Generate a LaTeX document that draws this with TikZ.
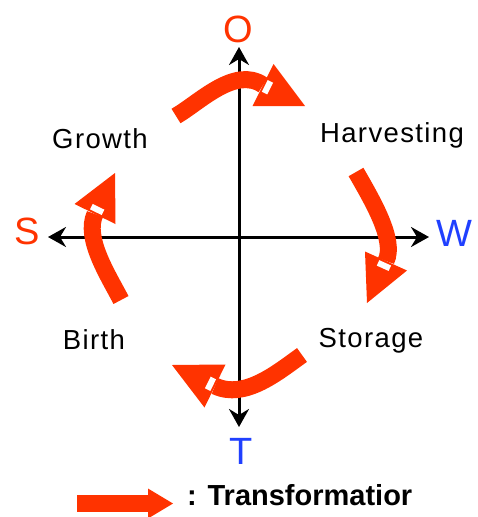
\documentclass[tikz,border=0pt]{standalone}
\usepackage{fontspec}
\setmainfont{Liberation Sans}
\newfontfamily\stagefont[LetterSpace=5]{Liberation Sans}
\usepackage{tikz}
\usetikzlibrary{calc,arrows.meta}
\definecolor{TransRed}{HTML}{FF3300}
\definecolor{AxisBlue}{HTML}{2040FF}
\tikzset{
  axis/.style={line width=3pt,{Stealth[length=18pt,width=20pt,inset=6pt]}-{Stealth[length=18pt,width=20pt,inset=6pt]}},
  band/.style={draw=TransRed,line width=17pt},
  head/.style={fill=TransRed},
  notch/.style={draw=white,line width=6pt},
  axlbl/.style={font=\fontsize{38}{40}\selectfont,inner sep=0pt,anchor=base},
  stage/.style={font=\stagefont\fontsize{27.5}{30}\selectfont,inner sep=0pt,anchor=base},
}

\begin{document}
\begin{tikzpicture}[x=1pt,y=-1pt]
  \useasboundingbox (0,0) rectangle (477,517);
  % axes
  \coordinate (otip) at (239,47);
  \coordinate (ttip) at (239,427);
  \coordinate (stip) at (48,237);
  \coordinate (wtip) at (429,237);
  \draw[axis] (ttip) -- (otip);
  \draw[axis] (stip) -- (wtip);
  \node[axlbl,TransRed] (O) at (238,42) {O};
  \node[axlbl,TransRed] (S) at (27,244) {S};
  \node[axlbl,AxisBlue] (W) at (454,246) {W};
  \node[axlbl,AxisBlue] (T) at (241,464) {T};
  % stages
  \node[stage] (growth) at (100,148) {Growth};
  \node[stage] (harvest) at (392,142) {Harvesting};
  \node[stage] (birth) at (94,349) {Birth};
  \node[stage] (storage) at (371,347) {Storage};
  % O -> W
  \coordinate (ows) at (176,116);
  \coordinate (owm) at (263,85);
  \coordinate (owp) at (305,106);
  \draw[band] (ows) .. controls (200,102) and (235,66) .. (owm);
  \fill[head] ($(owm)!0.5!90:(owp)$) -- (owp) -- ($(owm)!0.5!-90:(owp)$) -- cycle;
  \coordinate (own) at ($(owm)!5pt!(owp)$);
  \draw[notch] ($(own)!6.5pt!90:(owp)$) -- ($(own)!6.5pt!-90:(owp)$);
  % W -> T
  \coordinate (wts) at (356,172);
  \coordinate (wtm) at (386,261);
  \coordinate (wtp) at (367,303);
  \draw[band] (wts) .. controls (372,200) and (396,240) .. (wtm);
  \fill[head] ($(wtm)!0.5!90:(wtp)$) -- (wtp) -- ($(wtm)!0.5!-90:(wtp)$) -- cycle;
  \coordinate (wtn) at ($(wtm)!5pt!(wtp)$);
  \draw[notch] ($(wtn)!6.5pt!90:(wtp)$) -- ($(wtn)!6.5pt!-90:(wtp)$);
  % T -> S
  \coordinate (tss) at (302,355);
  \coordinate (tsm) at (215,386);
  \coordinate (tsp) at (172,365);
  \draw[band] (tss) .. controls (278,372) and (245,400) .. (tsm);
  \fill[head] ($(tsm)!0.5!90:(tsp)$) -- (tsp) -- ($(tsm)!0.5!-90:(tsp)$) -- cycle;
  \coordinate (tsn) at ($(tsm)!5pt!(tsp)$);
  \draw[notch] ($(tsn)!6.5pt!90:(tsp)$) -- ($(tsn)!6.5pt!-90:(tsp)$);
  % S -> O
  \coordinate (sos) at (121,300);
  \coordinate (som) at (95,214);
  \coordinate (sop) at (115,173);
  \draw[band] (sos) .. controls (108,275) and (84,238) .. (som);
  \fill[head] ($(som)!0.5!90:(sop)$) -- (sop) -- ($(som)!0.5!-90:(sop)$) -- cycle;
  \coordinate (son) at ($(som)!5pt!(sop)$);
  \draw[notch] ($(son)!6.5pt!90:(sop)$) -- ($(son)!6.5pt!-90:(sop)$);
  % legend
  \coordinate (lgs) at (77,503.5);
  \coordinate (lgm) at (148,503.5);
  \coordinate (lgp) at (173,503.5);
  \draw[band] (lgs) -- (lgm);
  \fill[head] ($(lgm)!0.6!90:(lgp)$) -- (lgp) -- ($(lgm)!0.6!-90:(lgp)$) -- cycle;
  \node[inner sep=0pt,anchor=base west,font=\bfseries\fontsize{29}{32}\selectfont] (legend) at (187,505) {: Transformatior};
\end{tikzpicture}
\end{document}
